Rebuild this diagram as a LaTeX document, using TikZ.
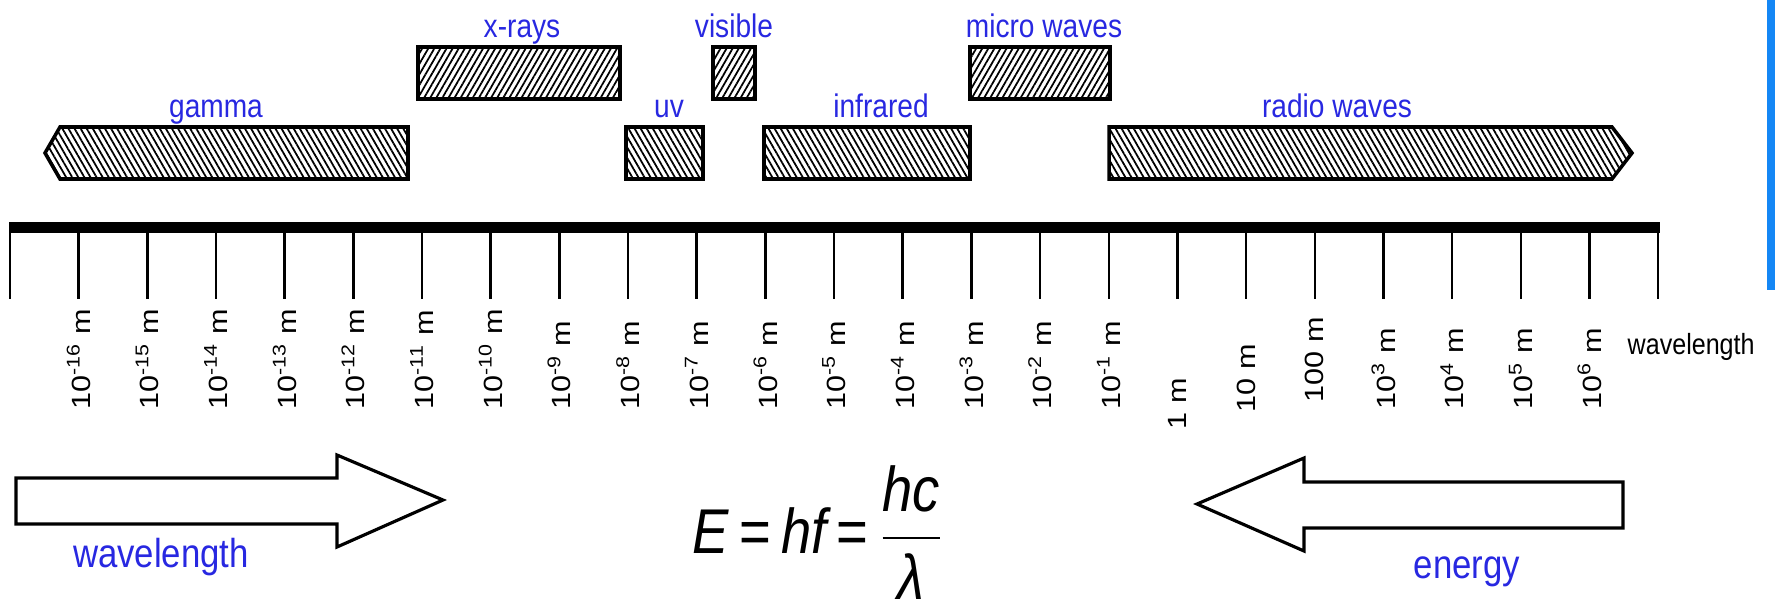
\documentclass[tikz,border=0pt]{standalone}
\usepackage{amsmath}
\usepackage{fontspec}
\setmainfont{Liberation Sans}[FakeStretch=0.86]
\newfontfamily\tickfont{Liberation Sans}[FakeStretch=1.16]
\usetikzlibrary{patterns.meta}
\definecolor{lblblue}{RGB}{40,40,225}
\definecolor{edgeblue}{RGB}{20,135,245}
\tikzset{
  bandne/.style={draw=black,line width=1pt,
    pattern={Lines[angle=60,distance=1.5pt,line width=0.5pt]}},
  bandnw/.style={draw=black,line width=1pt,
    pattern={Lines[angle=120,distance=1.5pt,line width=0.5pt]}},
  bandlbl/.style={font=\fontsize{9.3}{11}\selectfont,text=lblblue,
    inner sep=0pt,anchor=base},
  tickln/.style={line width=0.7pt},
  ticklbl/.style={font=\tickfont\fontsize{7.5}{9}\selectfont,rotate=90,
    anchor=west,inner sep=0pt},
  blockarr/.style={draw=black,line width=0.9pt,fill=white,line join=miter},
  arrlbl/.style={font=\fontsize{11.5}{13}\selectfont,text=lblblue,
    inner sep=0pt,anchor=base},
}

\begin{document}
\begin{tikzpicture}
  \useasboundingbox (0,0) rectangle (17.75,6.11);
  % bands, upper row
  \draw[bandne] (4.18,5.12) rectangle (6.20,5.64);
  \draw[bandne] (7.13,5.12) rectangle (7.55,5.64);
  \draw[bandne] (9.70,5.12) rectangle (11.10,5.64);
  \node[bandlbl] (xray) at (5.22,5.74) {x-rays};
  \node[bandlbl] (vis) at (7.34,5.74) {visible};
  \node[bandlbl] (micro) at (10.44,5.74) {micro waves};
  % bands, lower row
  \draw[bandnw] (0.45,4.58) -- (0.60,4.84) -- (4.08,4.84) -- (4.08,4.32)
    -- (0.60,4.32) -- cycle;
  \draw[bandnw] (6.26,4.32) rectangle (7.03,4.84);
  \draw[bandnw] (7.64,4.32) rectangle (9.70,4.84);
  \draw[bandnw] (11.09,4.32) -- (16.12,4.32) -- (16.32,4.58) -- (16.12,4.84)
    -- (11.09,4.84) -- cycle;
  \node[bandlbl] (gam) at (2.16,4.94) {gamma};
  \node[bandlbl] (uv) at (6.69,4.94) {uv};
  \node[bandlbl] (ir) at (8.81,4.94) {infrared};
  \node[bandlbl] (radio) at (13.37,4.94) {radio waves};
  % scale
  \fill (0.09,3.78) rectangle (16.60,3.89);
  \foreach \i in {0,...,24}
    \draw[tickln] ({0.10+0.6867*\i},3.80) -- ({0.10+0.6867*\i},3.12);
  \foreach \e [count=\i] in {16,15,...,1}
    \node[ticklbl] (w\i) at ({0.10+0.6867*\i},2.01) {10\textsuperscript{-\e} m};
  \node[ticklbl] (w17) at ({0.10+0.6867*17},1.81) {1 m};
  \node[ticklbl] (w18) at ({0.10+0.6867*18},1.98) {10 m};
  \node[ticklbl] (w19) at ({0.10+0.6867*19},2.08) {100 m};
  \foreach \e [count=\i from 20] in {3,4,5,6}
    \node[ticklbl] (w\i) at ({0.10+0.6867*\i},2.01) {10\textsuperscript{\e} m};
  \node[font=\fontsize{8.3}{10}\selectfont,anchor=base west,inner sep=0pt]
    (axis) at (16.27,2.57) {wavelength};
  \fill[edgeblue] (17.67,3.21) rectangle (17.75,6.11);
  % block arrows
  \draw[blockarr] (0.16,0.87) -- (0.16,1.33) -- (3.37,1.33) -- (3.37,1.56)
    -- (4.43,1.11) -- (3.37,0.64) -- (3.37,0.87) -- cycle;
  \draw[blockarr] (16.23,0.83) -- (16.23,1.29) -- (13.04,1.29) -- (13.04,1.53)
    -- (11.97,1.07) -- (13.04,0.60) -- (13.04,0.83) -- cycle;
  \node[arrlbl] (wl) at (1.61,0.44) {wavelength};
  \node[arrlbl] (en) at (14.67,0.33) {energy};
  \node[anchor=base east,inner sep=0pt,font=\fontsize{18}{21}\selectfont]
    (eq) at (9.45,0.58)
    {$\textit{E}\,\text{=}\,\textit{hf}\,\text{=}\,\dfrac{\textit{hc}\rule[-5pt]{0pt}{5pt}}{\rule{0pt}{15pt}\textit{λ}}$};
\end{tikzpicture}
\end{document}
